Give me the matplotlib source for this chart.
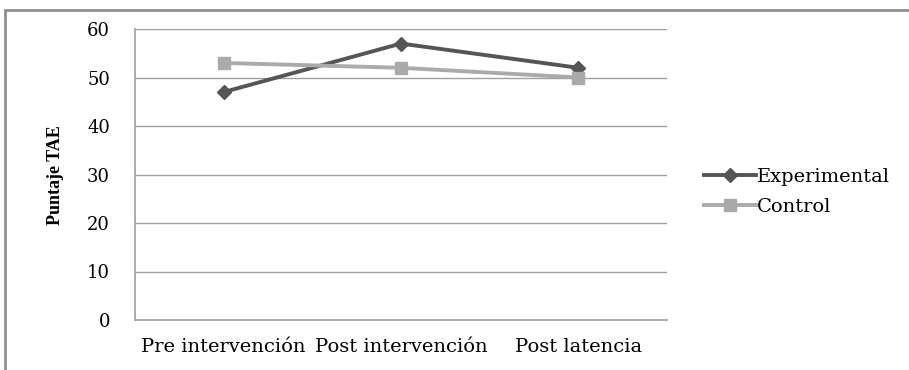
import matplotlib
matplotlib.use("Agg")
import matplotlib.pyplot as plt
from matplotlib.patches import Rectangle

categorias = ["Pre intervención", "Post intervención", "Post latencia"]
experimental = [47, 57, 52]
control = [53, 52, 50]
yticks = [0, 10, 20, 30, 40, 50, 60]

plt.rcParams['font.family'] = ['DejaVu Serif']

fig = plt.figure(figsize=(9.09, 3.70), dpi=100)
W, H = 909, 370
ax = fig.add_axes([135 / W, 1 - 320 / H, (667 - 135) / W, (320 - 29) / H])

x = list(range(len(categorias)))
ax.plot(x, experimental, color='#555555', lw=2.8, marker='D', ms=7, label='Experimental')
ax.plot(x, control, color='#aaaaaa', lw=2.8, marker='s', ms=8, label='Control')

ax.set_xlim(-0.5, 2.5)
ax.set_ylim(0, 60)
ax.set_yticks(yticks)
ax.set_xticks(x)
ax.set_xticklabels(categorias, fontsize=14)
ax.tick_params(axis='y', labelsize=13, length=0, pad=18)
ax.tick_params(axis='x', length=0, pad=13)
ax.yaxis.grid(True, color='#a0a0a0', lw=1)
ax.set_axisbelow(True)
for s in ['top', 'right']:
    ax.spines[s].set_visible(False)
for s in ['left', 'bottom']:
    ax.spines[s].set_color('#a0a0a0')
    ax.spines[s].set_linewidth(1.2)

fig.text(56 / W, 1 - 175 / H, "Puntaje TAE", rotation=90, fontsize=13,
         family='Liberation Serif', fontweight='bold', ha='center', va='center')

ax.legend(loc='center left', bbox_to_anchor=(686 / W, 1 - 192 / H),
          bbox_transform=fig.transFigure, frameon=False, fontsize=14,
          handlelength=2.7, handletextpad=0.05, labelspacing=0.6)

fig.patches.append(Rectangle((5 / W, -0.05), 2, 1 - 10 / H + 0.05,
                             transform=fig.transFigure, fill=False,
                             edgecolor='#909090', lw=2))

fig.savefig("out.png", dpi=100)
